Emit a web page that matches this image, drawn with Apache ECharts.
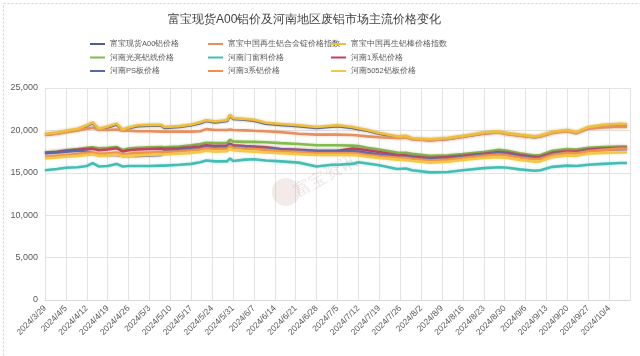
<!DOCTYPE html>
<html>
<head>
<meta charset="utf-8">
<script src="https://cdn.jsdelivr.net/npm/echarts@6/dist/echarts.min.js"></script>
<style>html,body{margin:0;padding:0;background:#fff}#c{width:640px;height:356px}</style>
</head>
<body>
<div id="c"></div>
<script>
const titleText = '富宝现货A00铝价及河南地区废铝市场主流价格变化';
const tickLabels = ['2024/3/29','2024/4/5','2024/4/12','2024/4/19','2024/4/26','2024/5/3','2024/5/10','2024/5/17','2024/5/24','2024/5/31','2024/6/7','2024/6/14','2024/6/21','2024/6/28','2024/7/5','2024/7/12','2024/7/19','2024/7/26','2024/8/2','2024/8/9','2024/8/16','2024/8/23','2024/8/30','2024/9/6','2024/9/13','2024/9/20','2024/9/27','2024/10/4','2024/10/11'];
const yTicks = [0, 5000, 10000, 15000, 20000, 25000];
// day offsets from 2024/3/29
const days = [0,4,7,11,14,16,18,21,24,26,28,31,35,39,40,45,49,52,54,57,61,62,63,67,70,74,79,85,91,96,98,103,105,108,112,118,121,123,129,135,140,147,152,155,159,164,166,170,175,178,182,187,193,195];

const a00 = [19500,19650,19850,20100,20500,20850,20100,20350,20700,20000,20250,20500,20550,20550,20300,20400,20600,20850,21100,20950,21100,21750,21350,21250,21150,20800,20650,20500,20300,20450,20500,20300,20150,19950,19600,19200,19250,18980,18850,19000,19250,19650,19780,19580,19400,19200,19300,19750,19950,19700,20300,20550,20680,20620];
const alloyIdx = [19450,19600,19800,20000,20200,20300,20100,20050,20100,19950,19950,19900,19900,19850,19850,19850,19850,19900,20150,20050,20050,20100,20050,20000,19950,19900,19800,19600,19500,19500,19500,19450,19400,19300,19200,19100,19150,18950,18850,19000,19250,19650,19750,19550,19380,19200,19280,19700,19900,19680,20200,20350,20450,20400];
const rodIdx = [19600,19750,19950,20200,20600,20950,20200,20450,20800,20100,20350,20600,20650,20650,20400,20500,20700,20950,21200,21050,21200,21850,21450,21350,21250,20900,20750,20600,20400,20550,20600,20400,20250,20050,19700,19300,19350,19080,18950,19100,19350,19750,19880,19680,19500,19300,19400,19850,20050,19800,20400,20650,20780,20720];
const wire = [17400,17500,17650,17800,17950,18000,17900,17950,18050,17700,17850,17950,18000,18050,18000,18100,18250,18400,18550,18500,18550,18900,18700,18650,18650,18600,18500,18400,18250,18250,18250,18200,18150,17950,17750,17400,17350,17250,17000,17050,17200,17450,17700,17600,17300,17050,17100,17600,17800,17750,17950,18050,18100,18100];
const window_ = [15300,15450,15600,15650,15800,16150,15750,15800,16050,15750,15800,15800,15800,15850,15850,15950,16050,16250,16450,16350,16350,16700,16400,16550,16600,16450,16350,16200,15750,15950,15950,16050,16250,16100,15900,15450,15500,15300,15050,15100,15300,15550,15650,15600,15400,15250,15300,15700,15850,15800,15950,16050,16150,16150];
const s1 = [17350,17450,17600,17700,17800,17850,17650,17750,17900,17500,17650,17750,17800,17850,17800,17900,18000,18100,18250,18150,18200,18450,18250,18150,18100,18000,17800,17700,17600,17600,17600,17850,17800,17650,17450,17100,17050,16950,16750,16850,17000,17250,17450,17350,17100,16850,16900,17350,17550,17500,17750,17850,17950,17950];
const ps = [17300,17400,17500,17600,17500,17300,17150,17100,17100,17000,17000,17000,17050,17100,17600,17700,17800,17900,18050,17950,18000,18300,18100,18000,17950,17900,17750,17650,17550,17550,17550,17550,17500,17350,17150,16950,16900,16800,16600,16700,16900,17150,17350,17250,16950,16700,16750,17200,17400,17350,17600,17700,17780,17780];
const s3 = [16900,17000,17100,17200,17350,17400,17250,17300,17400,17150,17250,17350,17400,17450,17450,17550,17650,17750,17900,17800,17850,18150,17950,17850,17800,17700,17550,17450,17300,17300,17300,17300,17250,17100,16950,16800,16750,16650,16450,16550,16750,17000,17150,17050,16800,16600,16650,17100,17350,17300,17550,17700,17850,17850];
const s5052 = [16700,16800,16900,17000,17100,17150,17000,17050,17150,16950,17000,17050,17100,17150,17150,17250,17350,17450,17600,17500,17550,17800,17650,17550,17500,17400,17300,17200,17100,17100,17100,17100,17050,16900,16750,16550,16500,16400,16200,16300,16500,16750,16850,16750,16500,16300,16350,16850,17050,17000,17250,17350,17400,17400];

const seriesNames = ['富宝现货A00铝价格','富宝中国再生铝合金锭价格指数','富宝中国再生铝棒价格指数','河南光亮铝线价格','河南门窗料价格','河南1系铝价格','河南PS板价格','河南3系铝价格','河南5052铝板价格'];
const seriesValues = [a00, alloyIdx, rodIdx, wire, window_, s1, ps, s3, s5052];
const colors = ['#4e5c93','#e59060','#edbf3c','#82bb4e','#45bdb5','#c2405c','#5c66a8','#f0904a','#f3c84a'];

const chart = echarts.init(document.getElementById('c'), null, {renderer:'canvas'});
const series = seriesNames.map((name, i) => ({
  name: name, type: 'line', showSymbol: false, symbol: 'none',
  data: days.map((d, k) => [d, seriesValues[i][k]]),
  lineStyle: { width: 2.6, color: colors[i], shadowColor: colors[i] + '66', shadowBlur: 3 },
  itemStyle: { color: colors[i] },
  z: 2 + i
}));
const legendCols = [[0,3,6],[1,4,7],[2,5,8]];
const legendLeft = [85, 203, 326];
const legends = legendCols.map((col, c) => ({
  orient: 'vertical', left: legendLeft[c], top: 34, itemGap: 3.5,
  itemWidth: 15, itemHeight: 2, icon: 'rect',
  textStyle: { fontSize: 7.5, color: '#595959', lineHeight: 10 },
  data: col.map(i => seriesNames[i])
}));
chart.setOption({
  animation: false,
  backgroundColor: '#fff',
  title: { text: titleText, left: 163, top: 9, textStyle: { fontSize: 12, fontWeight: 'normal', color: '#404040' } },
  legend: legends,
  grid: { left: 45, right: 10, top: 88, bottom: 56 },
  xAxis: {
    type: 'value', min: 0, max: 196, interval: 7,
    axisLine: { show: true, lineStyle: { color: '#d9d9d9' } },
    axisTick: { show: false },
    splitLine: { show: true, lineStyle: { color: '#e3e3e3' } },
    axisLabel: { rotate: 45, fontSize: 8.5, color: '#595959', margin: 7, showMaxLabel: false,
      formatter: v => tickLabels[Math.round(v / 7)] }
  },
  yAxis: {
    type: 'value', min: yTicks[0], max: yTicks[yTicks.length-1], interval: 5000,
    axisLine: { show: false }, axisTick: { show: false },
    splitLine: { lineStyle: { color: '#e3e3e3' } },
    axisLabel: { fontSize: 9, color: '#595959', margin: 7 }
  },
  graphic: [
    { type: 'rect', left: 1, top: 1, shape: { width: 637, height: 353 }, style: { fill: 'none', stroke: '#cfcfcf', lineWidth: 1, lineDash: [2,2] }, z: 0 },
    { type: 'circle', left: 272, top: 178, shape: { r: 14 }, style: { fill: 'rgba(200,140,140,0.18)' }, z: 1 },
    { type: 'text', x: 300, y: 200, rotation: 0.5, style: { text: '富宝资讯', fontSize: 17, fill: 'rgba(180,150,150,0.25)', verticalAlign: 'bottom' }, z: 1 }
  ],
  series: series
});
</script>
</body>
</html>
